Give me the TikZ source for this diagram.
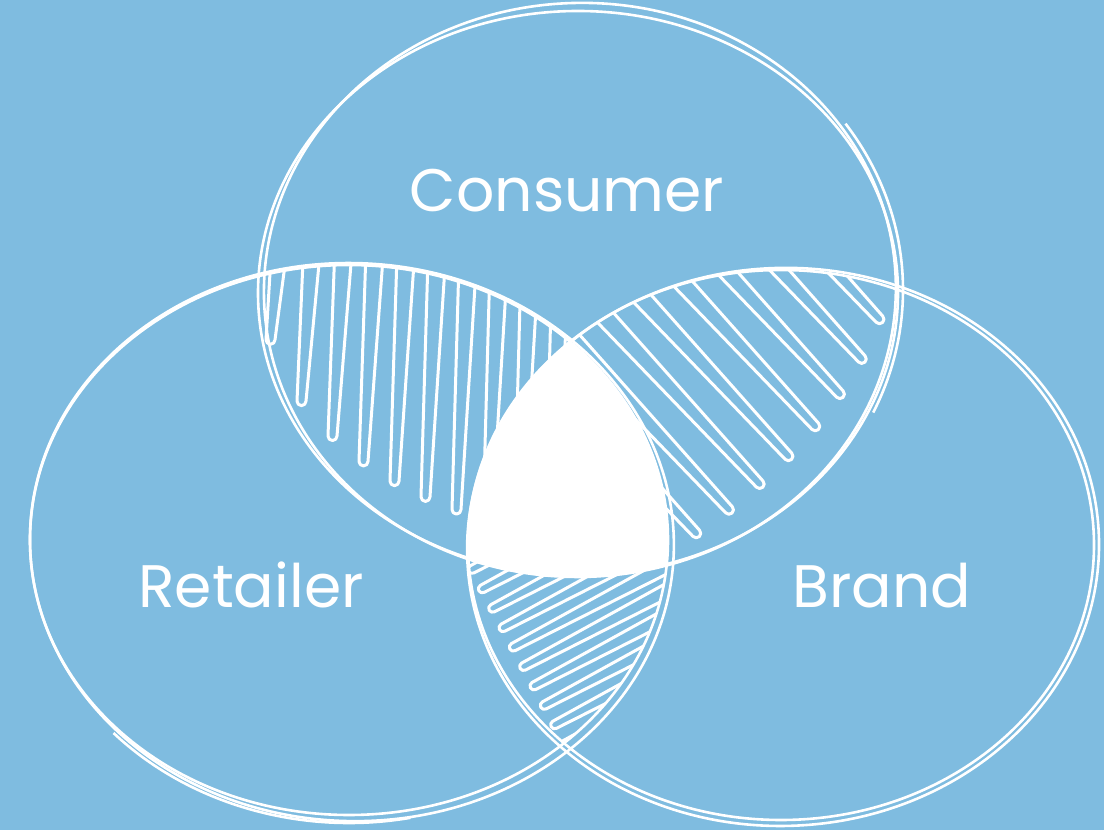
\documentclass[tikz,border=0pt]{standalone}
\usepackage{fontspec}
\setmainfont{Poppins}
\definecolor{bg}{RGB}{127,188,224}
\begin{document}
\begin{tikzpicture}[x=1pt,y=1pt,
  ring/.style={white, line width=2.6pt},
  hatch/.style={white, line width=3pt, line join=round},
  lbl/.style={white, font=\fontsize{60}{70}\selectfont, anchor=base, inner sep=0pt},
  declare function={
    rtop(\x)=290+275*sqrt(max(0,1-((\x-349)/319)^2));
    cbot(\x)=537-282*sqrt(max(0,1-((\x-578)/320)^2));
  }]
\fill[bg] (0,0) rectangle (1104,830);
\useasboundingbox (0,0) rectangle (1104,830);

% left lens: Consumer & Retailer
\begin{scope}
  \clip (578,537) ellipse [x radius=320pt, y radius=282pt];
  \clip (349,290) ellipse [x radius=319pt, y radius=275pt];
  \foreach \i in {0,...,13}{
    \pgfmathsetmacro\xa{266+31*\i}
    \pgfmathsetmacro\yb{cbot(\xa)+0.14*(rtop(\xa)-cbot(\xa))+4.5}
    \draw[hatch] (\xa+9,640) -- (\xa,\yb) arc [start angle=180, end angle=360, radius=4.5pt] -- (\xa+29,640);
  }
\end{scope}

% right lens: Consumer & Brand
\begin{scope}
  \clip (578,537) ellipse [x radius=320pt, y radius=282pt];
  \clip (781,285) ellipse [x radius=313pt, y radius=275pt];
  \begin{scope}[shift={(705,420)}, rotate=43]
    \foreach \i in {0,...,11}{
      \pgfmathsetmacro\xa{-255+40*\i}
      \pgfmathsetmacro\yb{-100*sqrt(max(0,1-((\xa+5)/240)^2))+8.5}
      \draw[hatch] (\xa-5,200) -- (\xa,\yb) arc [start angle=180, end angle=360, radius=4.5pt] -- (\xa+16,200);
    }
  \end{scope}
\end{scope}

% bottom lens: Retailer & Brand
\begin{scope}
  \clip (349,290) ellipse [x radius=319pt, y radius=275pt];
  \clip (781,285) ellipse [x radius=313pt, y radius=275pt];
  \begin{scope}[shift={(570,170)}, rotate=-62]
    \foreach \i in {0,...,9}{
      \pgfmathsetmacro\xa{-130+22*\i}
      \draw[hatch] (\xa-3,150) -- (\xa,-44) arc [start angle=180, end angle=360, radius=4pt] -- (\xa+12,150);
    }
  \end{scope}
\end{scope}

% centre
\begin{scope}
  \clip (578,537) ellipse [x radius=320pt, y radius=282pt];
  \clip (349,290) ellipse [x radius=319pt, y radius=275pt];
  \fill[white] (781,285) ellipse [x radius=313pt, y radius=275pt];
\end{scope}

% Consumer ring
\draw[ring] (578,537) ellipse [x radius=320pt, y radius=282pt];
\draw[ring, rotate around={2:(578,537)}] (580,540) ellipse [x radius=316pt, y radius=287pt];
\draw[ring] (585,540) ++(35:318pt and 290pt) arc [start angle=35, end angle=-25, x radius=318pt, y radius=290pt];

% Retailer ring
\draw[ring] (349,290) ellipse [x radius=319pt, y radius=275pt];
\draw[ring, rotate around={-2:(349,290)}] (352,288) ellipse [x radius=322pt, y radius=279pt];
\draw[ring] (349,290) ++(223:322pt and 283pt) arc [start angle=223, end angle=281, x radius=322pt, y radius=283pt];

% Brand ring
\draw[ring] (781,285) ellipse [x radius=313pt, y radius=275pt];
\draw[ring, rotate around={2:(781,285)}] (783,283) ellipse [x radius=316pt, y radius=279pt];

\node[lbl] (consumer) at (567,618) {Consumer};
\node[lbl] (retailer) at (251,222) {Retailer};
\node[lbl] (brand) at (882,222) {Brand};
\end{tikzpicture}
\end{document}
